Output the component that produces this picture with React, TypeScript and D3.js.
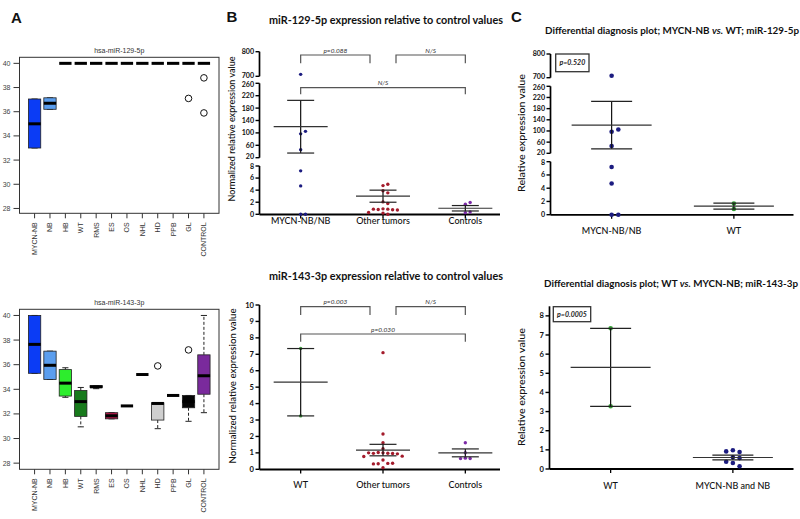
import React from "react";
import * as d3 from "d3";

// ---------------- Panel A data ----------------
const boxCategories = ["MYCN-NB", "NB", "HB", "WT", "RMS", "ES", "OS", "NHL", "HD", "PPB", "GL", "CONTROL"];
const boxColors = ["#0b3cf5", "#5b9eee", "#2ded2d", "#187a1c", "#555555", "#b3174a", "#777777", "#777777", "#cfcfcf", "#777777", "#050505", "#7a2a9c"];
const boxYTicks = [28, 30, 32, 34, 36, 38, 40];
// [lower whisker, Q1, median, Q3, upper whisker]
const mir129Stats = [
  [33, 33, 35, 37.05, 37.05],
  [36.2, 36.2, 36.7, 37.15, 37.15],
  [40, 40, 40, 40, 40],
  [40, 40, 40, 40, 40],
  [40, 40, 40, 40, 40],
  [40, 40, 40, 40, 40],
  [40, 40, 40, 40, 40],
  [40, 40, 40, 40, 40],
  [40, 40, 40, 40, 40],
  [40, 40, 40, 40, 40],
  [40, 40, 40, 40, 40],
  [40, 40, 40, 40, 40],
];
const mir129Outliers = [[], [], [], [], [], [], [], [], [], [], [37.1], [38.8, 35.9]];
const mir143Stats = [
  [35.3, 35.3, 37.65, 40, 40],
  [34.8, 34.8, 35.95, 37.1, 37.1],
  [33.35, 33.45, 34.5, 35.6, 35.75],
  [30.95, 31.8, 33.0, 33.9, 34.15],
  [34.05, 34.15, 34.2, 34.3, 34.3],
  [31.6, 31.6, 31.85, 32.1, 32.1],
  [32.65, 32.65, 32.65, 32.65, 32.65],
  [35.2, 35.2, 35.2, 35.2, 35.2],
  [30.8, 31.5, 32.85, 32.9, 32.9],
  [33.5, 33.5, 33.5, 33.5, 33.5],
  [31.4, 32.5, 33.0, 33.5, 33.5],
  [32.1, 33.6, 35.1, 36.8, 40],
];
const mir143Outliers = [[], [], [], [], [], [], [], [], [35.9], [], [37.2], []];

// ---------------- Panel B data ----------------
const bTopGroups = ["MYCN-NB/NB", "Other tumors", "Controls"];
const bTopValues = [
  [708, 97, 105, 46, 7.2, 4.7, 0, 0],
  [4.75, 4.97, 3.9, 3.55, 2.05, 1.8, 0.9, 0.85, 0.8, 0.75, 0.85, 0.7, 0.3, 0.2, 0.0],
  [1.68, 1.95, 0.27, 0.38],
];
const bTopMeans = [120, 3.0, 1.0];
const bTopSems = [85, 1.0, 0.45];
const bTopTicks = [[0, 2, 4, 6, 8], [20, 60, 100, 140, 180, 220, 260], [700, 800]];
const bTopPLabels = ["p=0.088", "N/S", "N/S"];

const bBotGroups = ["WT", "Other tumors", "Controls"];
const bBotValues = [
  [7.35, 3.25],
  [7.1, 2.15, 1.62, 1.25, 1.0, 0.98, 1.02, 0.96, 0.97, 0.94, 1.0, 0.8, 0.78, 0.57, 0.36, 0.34, 0.37, 0.33, 0.1],
  [1.62, 1.01, 0.68, 0.66, 0.65],
];
const bBotMeans = [5.3, 1.17, 1.0];
const bBotSems = [2.05, 0.35, 0.24];
const bBotTicks = [[0, 1, 2, 3, 4, 5, 6, 7, 8, 9, 10]];
const bBotPLabels = ["p=0.003", "N/S", "p=0.030"];

// ---------------- Panel C data ----------------
const cTopGroups = ["MYCN-NB/NB", "WT"];
const cTopValues = [
  [708, 97, 105, 46, 7.2, 4.7, 0, 0],
  [0.85, 1.7],
];
const cTopMeans = [121, 1.3];
const cTopSems = [85, 0.45];
const cTopTicks = [[0, 2, 4, 6, 8], [20, 60, 100, 140, 180, 220, 260], [700, 800]];
const cTopP = "p=0.520";
const cTopTitle = ["Differential diagnosis plot; MYCN-NB ", "vs.", " WT; miR-129-5p"];

const cBotGroups = ["WT", "MYCN-NB and NB"];
const cBotValues = [
  [7.35, 3.28],
  [0.98, 0.89, 0.92, 0.61, 0.57, 0.38, 0.31, 0.14],
];
const cBotMeans = [5.31, 0.6];
const cBotSems = [2.04, 0.12];
const cBotTicks = [[0, 1, 2, 3, 4, 5, 6, 7, 8]];
const cBotP = "p=0.0005";
const cBotTitle = ["Differential diagnosis plot; WT ", "vs.", " MYCN-NB; miR-143-3p"];

const NAVY = "#1c1c80";
const DRED = "#a31b2b";
const PURP = "#7b2aa6";
const GREEN = "#35a035";

const arial = "'Liberation Sans', Arial, sans-serif";
const sans = "Lato, 'Open Sans', sans-serif";

// ---------------- Box plot panel ----------------
function BoxPanel({ top, bottom, domain, stats, outliers, title }: any) {
  const left = 19.5, right = 219;
  const x = d3.scaleLinear().domain([0.02, 12.98]).range([left, right]);
  const y = d3.scaleLinear().domain(domain).range([bottom, top]);
  const hw = x(1.4) - x(1);
  return (
    <g>
      <text x={(left + right) / 2} y={top - 4} textAnchor="middle" fontSize={7} fontFamily={arial} fill="#333">
        {title}
      </text>
      {boxCategories.map((c, i) => {
        const cx = x(i + 1);
        const [lo, q1, med, q3, hi] = stats[i];
        return (
          <g key={c}>
            {hi > q3 && <line x1={cx} x2={cx} y1={y(q3)} y2={y(hi)} stroke="#222" strokeDasharray="3,2" />}
            {lo < q1 && <line x1={cx} x2={cx} y1={y(q1)} y2={y(lo)} stroke="#222" strokeDasharray="3,2" />}
            <line x1={cx - hw / 2} x2={cx + hw / 2} y1={y(hi)} y2={y(hi)} stroke="#222" />
            <line x1={cx - hw / 2} x2={cx + hw / 2} y1={y(lo)} y2={y(lo)} stroke="#222" />
            <rect x={cx - hw} y={y(q3)} width={2 * hw} height={Math.max(0, y(q1) - y(q3))} fill={boxColors[i]} stroke="#222" strokeWidth={0.8} />
            <line x1={cx - hw} x2={cx + hw} y1={y(med)} y2={y(med)} stroke="#000" strokeWidth={3} />
            {outliers[i].map((o: number, j: number) => (
              <circle key={j} cx={cx} cy={y(o)} r={3.3} fill="none" stroke="#111" strokeWidth={1} />
            ))}
            <line x1={cx} x2={cx} y1={bottom} y2={bottom + 5} stroke="#333" />
            <text
              transform={`translate(${cx},${bottom + 9}) rotate(-90)`}
              textAnchor="end"
              dy="0.35em"
              fontSize={7}
              fontFamily={arial}
              fill="#333"
            >
              {c}
            </text>
          </g>
        );
      })}
      <rect x={left} y={top} width={right - left} height={bottom - top} fill="none" stroke="#333" strokeWidth={1} />
      {boxYTicks.map((t) => (
        <g key={t}>
          <line x1={left - 6} x2={left} y1={y(t)} y2={y(t)} stroke="#333" />
          <text x={left - 9} y={y(t)} dy="0.35em" textAnchor="end" fontSize={7} fontFamily={arial} fill="#444">
            {t}
          </text>
        </g>
      ))}
    </g>
  );
}

// ---------------- Scatter panel helpers ----------------
function makeBroken(segs: any[]) {
  const scales = segs.map((s) => d3.scaleLinear().domain(s.domain).range(s.range));
  return (v: number) => {
    let idx = segs.findIndex((s) => v >= s.domain[0] && v <= s.domain[1]);
    if (idx < 0) {
      let best = 0, bd = Infinity;
      segs.forEach((s, k) => {
        const d = Math.min(Math.abs(v - s.domain[0]), Math.abs(v - s.domain[1]));
        if (d < bd) { bd = d; best = k; }
      });
      idx = best;
    }
    return scales[idx](v);
  };
}

function swarm(values: number[], yf: (v: number) => number, cx: number, step: number, minDist: number) {
  const placed: { x: number; y: number }[] = [];
  return values.map((v) => {
    const yy = yf(v);
    for (let k = 0; k < 60; k++) {
      const m = Math.ceil(k / 2);
      const off = k === 0 ? 0 : k % 2 === 1 ? m * step : -m * step;
      const xx = cx + off;
      if (placed.every((p) => Math.hypot(p.x - xx, p.y - yy) >= minDist)) {
        placed.push({ x: xx, y: yy });
        return { x: xx, y: yy };
      }
    }
    return { x: cx, y: yy };
  });
}

function ScatterPanel(p: any) {
  const yf = makeBroken(p.segs);
  const x = d3.scalePoint().domain(p.groups).range(p.xRange).padding(0.5);
  const title = Array.isArray(p.title) ? p.title : [p.title];
  const nSeg = p.segs.length;
  return (
    <g fontFamily={sans}>
      {/* title */}
      <text x={p.titleX} y={p.titleY} textAnchor="middle" fontSize={p.titleSize} fontWeight={p.titleWeight} fill="#111"
        textLength={p.titleLen} lengthAdjust="spacingAndGlyphs">
        {title.map((t: string, i: number) => (
          <tspan key={i} fontStyle={i === 1 ? "italic" : "normal"}>{t}</tspan>
        ))}
      </text>
      {/* y label */}
      <text transform={`translate(${p.ylabelX},${p.ylabelY}) rotate(-90)`} textAnchor="middle" fontSize={10} fill="#111"
        fontWeight={500} textLength={p.ylabelLen} lengthAdjust="spacingAndGlyphs">
        {p.ylabel}
      </text>
      {/* y axis segments */}
      {p.segs.map((s: any, k: number) => {
        const ts: number[] = p.ticks[k];
        return (
          <g key={k}>
            <line x1={p.axisX} x2={p.axisX} y1={s.range[0]} y2={s.range[1]} stroke="#000" strokeWidth={1.7} />
            {ts.map((t: number, ti: number) => {
              // nudge labels at segment ends apart so adjacent segments do not collide
              let nudge = 0;
              if (nSeg > 1 && ti === ts.length - 1 && k < nSeg - 1) nudge = 0.9;
              if (nSeg > 1 && ti === 0 && k > 0) nudge = -0.9;
              return (
                <g key={t}>
                  <line x1={p.axisX - 4} x2={p.axisX} y1={yf(t)} y2={yf(t)} stroke="#000" strokeWidth={1.4} />
                  <text x={p.axisX - 5.5} y={yf(t) + nudge} dy="0.34em" textAnchor="end" fontSize={nSeg > 1 ? 7.1 : 7.6}
                    fontWeight="bold" fill="#111">
                    {t}
                  </text>
                </g>
              );
            })}
          </g>
        );
      })}
      {/* x axis */}
      <line x1={p.axisX} x2={p.xEnd} y1={p.xAxisY} y2={p.xAxisY} stroke="#000" strokeWidth={1.8} />
      {p.groups.map((g: string) => (
        <g key={g}>
          <line x1={x(g)} x2={x(g)} y1={p.xAxisY} y2={p.xAxisY + 4} stroke="#000" strokeWidth={1.3} />
          <text x={x(g)} y={p.catY} textAnchor="middle" fontSize={9} fill="#111" fontWeight={500}>
            {g}
          </text>
        </g>
      ))}
      {/* data */}
      {p.groups.map((g: string, gi: number) => {
        const cx = x(g) as number;
        const m = p.means[gi], s = p.sems[gi];
        const pts = swarm(p.values[gi], yf, cx, p.step, p.minDist);
        return (
          <g key={g}>
            {pts.map((pt, j) => (
              <circle key={j} cx={pt.x} cy={pt.y} r={p.r} fill={p.colors[gi]} />
            ))}
            <line x1={cx} x2={cx} y1={yf(m - s)} y2={yf(m + s)} stroke="#111" strokeWidth={1.2} />
            <line x1={cx - p.capHalf} x2={cx + p.capHalf} y1={yf(m + s)} y2={yf(m + s)} stroke="#222" strokeWidth={1.2} />
            <line x1={cx - p.capHalf} x2={cx + p.capHalf} y1={yf(m - s)} y2={yf(m - s)} stroke="#222" strokeWidth={1.2} />
            <line x1={cx - p.meanHalf} x2={cx + p.meanHalf} y1={yf(m)} y2={yf(m)} stroke="#333" strokeWidth={1.2} />
          </g>
        );
      })}
      {/* brackets */}
      {p.brackets &&
        p.brackets.map((b: any, k: number) => {
          const x1 = (x(p.groups[b.a]) as number) + (b.a === 1 ? p.inset : 0);
          const x2 = (x(p.groups[b.b]) as number) - (b.b === 1 ? p.inset : 0);
          return (
            <g key={k}>
              <path d={`M${x1},${b.y + b.drop}V${b.y}H${x2}V${b.y + b.drop}`} fill="none" stroke="#555" strokeWidth={1.2} />
              <text x={(x1 + x2) / 2} y={b.y - 2.5} textAnchor="middle" fontSize={6.5} fontStyle="italic" fill="#333">
                {p.pLabels[k]}
              </text>
            </g>
          );
        })}
      {/* p box */}
      {p.pbox && (
        <g>
          <rect x={p.pbox.x} y={p.pbox.y} width={p.pbox.w} height={p.pbox.h} fill="#fff" stroke="#333" strokeWidth={1.3} />
          <text x={p.pbox.x + p.pbox.w / 2} y={p.pbox.y + p.pbox.h / 2} dy="0.35em" textAnchor="middle" fontSize={7}
            fontStyle="italic" fontWeight="bold" fill="#222">
            {p.pbox.label}
          </text>
        </g>
      )}
    </g>
  );
}

export default function App() {
  return (
    <svg width={800} height={519} viewBox="0 0 800 519" style={{ position: "absolute", left: 0, top: 0, background: "#fff" }}>
      <rect width={800} height={519} fill="#fff" />
      <text x={11} y={22.5} fontSize={15} fontWeight="bold" fontFamily={arial} fill="#111">A</text>
      <text x={226.5} y={22} fontSize={15} fontWeight="bold" fontFamily={arial} fill="#111">B</text>
      <text x={511} y={22} fontSize={15} fontWeight="bold" fontFamily={arial} fill="#111">C</text>

      <BoxPanel top={57.3} bottom={213.3} domain={[27.6, 40.5]} stats={mir129Stats} outliers={mir129Outliers} title="hsa-miR-129-5p" />
      <BoxPanel top={309.3} bottom={469.3} domain={[27.5, 40.5]} stats={mir143Stats} outliers={mir143Outliers} title="hsa-miR-143-3p" />

      <ScatterPanel
        groups={bTopGroups} values={bTopValues} means={bTopMeans} sems={bTopSems} colors={[NAVY, DRED, PURP]}
        segs={[
          { domain: [0, 8], range: [214.3, 166] },
          { domain: [20, 260], range: [157.7, 83.3] },
          { domain: [700, 800], range: [76.3, 51.7] },
        ]}
        ticks={bTopTicks}
        xRange={[259.5, 506.5]} axisX={259.5} xAxisY={214.5} xEnd={500} catY={224}
        r={1.7} step={4.8} minDist={4} meanHalf={27} capHalf={13.5}
        brackets={[
          { a: 0, b: 1, y: 55, drop: 8.3 },
          { a: 1, b: 2, y: 55, drop: 8.3 },
          { a: 0, b: 2, y: 87.7, drop: 6.6 },
        ]}
        inset={13} pLabels={bTopPLabels}
        title="miR-129-5p expression relative to control values" titleX={386} titleY={23.5} titleSize={10.5} titleWeight="bold" titleLen={234}
        ylabel="Normalized relative expression value" ylabelX={235} ylabelY={129} ylabelLen={145}
      />
      <ScatterPanel
        groups={bBotGroups} values={bBotValues} means={bBotMeans} sems={bBotSems} colors={[GREEN, DRED, PURP]}
        segs={[{ domain: [0, 10], range: [469.3, 305] }]}
        ticks={bBotTicks}
        xRange={[259.5, 506.5]} axisX={259.5} xAxisY={469.5} xEnd={500} catY={487.5}
        r={1.7} step={4.8} minDist={4} meanHalf={27} capHalf={13.5}
        brackets={[
          { a: 0, b: 1, y: 306.7, drop: 8.3 },
          { a: 1, b: 2, y: 306.7, drop: 8.3 },
          { a: 0, b: 2, y: 334, drop: 7.7 },
        ]}
        inset={13} pLabels={bBotPLabels}
        title="miR-143-3p expression relative to control values" titleX={386} titleY={280} titleSize={10.5} titleWeight="bold" titleLen={234}
        ylabel="Normalized relative expression value" ylabelX={235.5} ylabelY={386} ylabelLen={155}
      />
      <ScatterPanel
        groups={cTopGroups} values={cTopValues} means={cTopMeans} sems={cTopSems} colors={[NAVY, GREEN]}
        segs={[
          { domain: [0, 8], range: [214.7, 161.7] },
          { domain: [20, 260], range: [153.3, 86.3] },
          { domain: [700, 800], range: [77.7, 54] },
        ]}
        ticks={cTopTicks}
        xRange={[550.5, 795]} axisX={550.5} xAxisY={214.8} xEnd={793.5} catY={234}
        r={2.3} step={6.7} minDist={5.5} meanHalf={40} capHalf={20.5}
        pbox={{ x: 555.7, y: 54, w: 33.3, h: 17.7, label: cTopP }}
        title={cTopTitle} titleX={672} titleY={34} titleSize={9.8} titleWeight="bold" titleLen={254}
        ylabel="Relative expression value" ylabelX={524.5} ylabelY={133} ylabelLen={118}
      />
      <ScatterPanel
        groups={cBotGroups} values={cBotValues} means={cBotMeans} sems={cBotSems} colors={[GREEN, NAVY]}
        segs={[{ domain: [0, 8.5], range: [469, 306.3] }]}
        ticks={cBotTicks}
        xRange={[549.5, 794]} axisX={549.5} xAxisY={469} xEnd={793.5} catY={488.5}
        r={2.3} step={6.7} minDist={5.5} meanHalf={40} capHalf={20.5}
        pbox={{ x: 553.3, y: 306.7, w: 37.4, h: 15, label: cBotP }}
        title={cBotTitle} titleX={671} titleY={287} titleSize={9.8} titleWeight="bold" titleLen={254}
        ylabel="Relative expression value" ylabelX={524.5} ylabelY={387} ylabelLen={118}
      />
    </svg>
  );
}
